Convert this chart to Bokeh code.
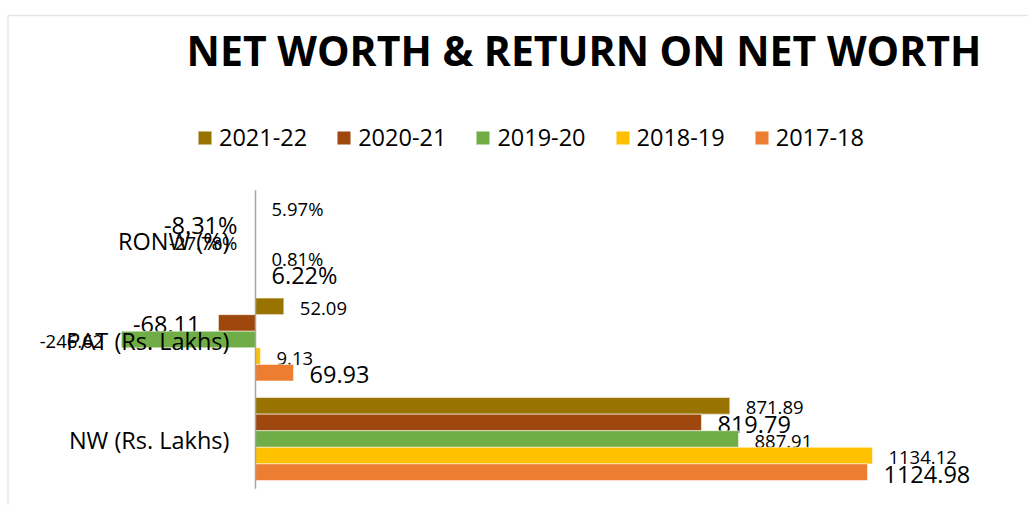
from bokeh.plotting import figure
from bokeh.models import (ColumnDataSource, Range1d, Label,
                          Legend, LegendItem, BoxAnnotation)
from bokeh.transform import dodge
from bokeh.core.properties import value
from bokeh.embed import file_html
from bokeh.resources import INLINE

# ---- data ----
categories = ["NW (Rs. Lakhs)", "PAT (Rs. Lakhs)", "RONW (%)"]      # bottom -> top
years = ["2021-22", "2020-21", "2019-20", "2018-19", "2017-18"]       # legend order
colors = ["#997300", "#9E480E", "#70AD47", "#FFC000", "#ED7D31"]
nw = [871.89, 819.79, 887.91, 1134.12, 1124.98]
pat = [52.09, -68.11, -246.62, 9.13, 69.93]
ronw_pct = [5.97, -8.31, -27.78, 0.81, 6.22]
label_sizes = ["18.5px", "23.5px", "18.5px", "18.5px", "23.5px"]

FONT = "Open Sans"
W, H = 1028, 505

# layout constants (pixels)
zero_px = 255.0           # x position of the value axis
px_per_unit = 0.544       # pixels per value unit
band_px = 99.5            # height of one category band
first_center_px = 438.5   # centre of the bottom category band
bar_frac = 1.0 / 6.0      # bar thickness as fraction of a band

x_range = Range1d(-zero_px / px_per_unit, (W - zero_px) / px_per_unit)
y_range = Range1d(-(H - first_center_px) / band_px, first_center_px / band_px)

p = figure(width=W, height=H, y_range=y_range, x_range=x_range,
           x_axis_location=None, y_axis_location=None,
           toolbar_location=None, output_backend="svg",
           min_border=0, outline_line_color=None,
           background_fill_color="white", border_fill_color="white")
p.grid.visible = False

# chart-area border (top and left edges)
p.add_layout(BoxAnnotation(left=7.5, right=3000, top=15, bottom=3000,
                           left_units="canvas", right_units="canvas",
                           top_units="canvas", bottom_units="canvas",
                           fill_alpha=0, line_color="#ABABAB", line_width=1.5))

cat_idx = list(range(len(categories)))
n = len(years)
items = []
for i, yr in enumerate(years):
    off = ((n - 1) / 2.0 - i) * bar_frac
    vals = [nw[i], pat[i], ronw_pct[i] / 100.0]
    texts = ["%.2f" % nw[i], "%.2f" % pat[i], "%.2f%%" % ronw_pct[i]]
    src = ColumnDataSource(dict(y=cat_idx, x=vals, t=texts))
    r = p.hbar(y=dodge("y", off, range=p.y_range), right="x", left=0,
               height=bar_frac, source=src,
               fill_color=colors[i], line_color="white", line_width=0.75,
               line_alpha=0.7)
    items.append(LegendItem(label=yr, renderers=[r]))
    pos = [k for k in cat_idx if vals[k] >= 0]
    neg = [k for k in cat_idx if vals[k] < 0]
    for idx, align, xo in ((pos, "left", 16), (neg, "right", -18)):
        if not idx:
            continue
        s = ColumnDataSource(dict(y=[cat_idx[k] for k in idx],
                                  x=[vals[k] for k in idx],
                                  t=[texts[k] for k in idx]))
        p.text(x="x", y=dodge("y", off, range=p.y_range), text="t", source=s,
               x_offset=xo, y_offset=2, text_align=align, text_baseline="middle",
               text_font=value(FONT), text_font_size=value(label_sizes[i]),
               text_color="#000000")

# value axis line (only along the category bands)
axis_src = ColumnDataSource(dict(x=[0], y0=[min(cat_idx) - 0.5], y1=[max(cat_idx) + 0.5]))
p.segment(x0="x", x1="x", y0="y0", y1="y1", source=axis_src,
          line_color="#A6A6A6", line_width=1.5)

# category labels next to the axis
cat_src = ColumnDataSource(dict(y=cat_idx, x=[0] * len(categories), t=categories))
p.text(x="x", y="y", text="t", source=cat_src, x_offset=-26, y_offset=1,
       text_align="right", text_baseline="middle",
       text_font=value(FONT), text_font_size=value("23.5px"), text_color="#000000")

legend = Legend(items=items, orientation="horizontal", location=(196, 352),
                glyph_width=17, glyph_height=17, label_standoff=6, spacing=28,
                padding=0, margin=0, border_line_color=None,
                background_fill_alpha=0, label_text_font=FONT,
                label_text_font_size="23.5px", label_text_color="#000000")
p.add_layout(legend)

p.add_layout(Label(x=583.5, y=49, x_units="canvas", y_units="canvas",
                   text="NET WORTH & RETURN ON NET WORTH", text_align="center",
                   text_baseline="alphabetic", text_font=FONT,
                   text_font_style="bold", text_font_size="41px",
                   text_color="#000000"))

open("out.html", "w").write(file_html(p, INLINE))
